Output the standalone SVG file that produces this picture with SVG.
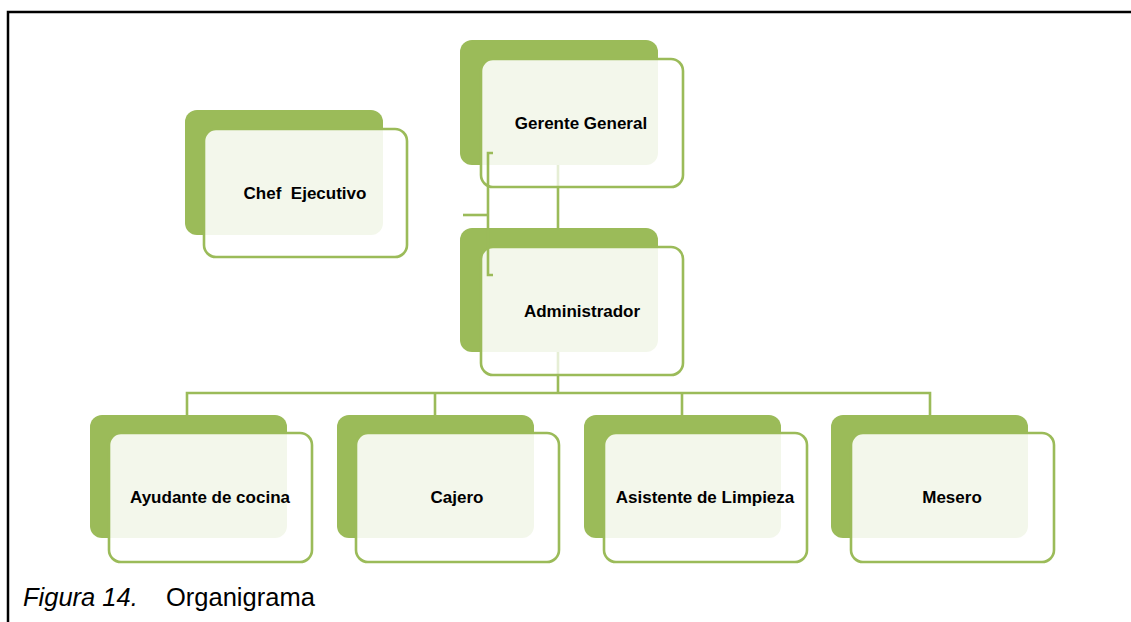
<svg xmlns="http://www.w3.org/2000/svg" width="1131" height="622" viewBox="0 0 1131 622">
<style>
.back{fill:#9bbb59;}
.front{fill:#ffffff;fill-opacity:0.88;stroke:#9bbb59;stroke-width:2.6;}
.lbl{font-family:"Liberation Sans",Arial,sans-serif;font-weight:bold;font-size:17px;fill:#000;text-anchor:middle;}
.con{fill:none;stroke:#9bbb59;stroke-width:2.6;}
.faint{fill:none;stroke:#9bbb59;stroke-width:2.6;opacity:0.25;}
.cap{font-family:"Liberation Sans",Arial,sans-serif;font-size:25.5px;fill:#000;}
</style>
<rect width="1131" height="622" fill="#ffffff"/>
<path d="M8,622 V12 H1131" fill="none" stroke="#000" stroke-width="2.5"/>

<g id="node-gerente">
<rect class="back" x="460" y="40" width="198" height="125" rx="12"/>
<rect class="front" x="481" y="59" width="202" height="128" rx="12"/>
<text class="lbl" x="581" y="129">Gerente General</text>
</g>
<g id="node-chef">
<rect class="back" x="185" y="110" width="198" height="125" rx="12"/>
<rect class="front" x="204" y="129" width="203" height="128" rx="12"/>
<text class="lbl" x="305" y="199" xml:space="preserve">Chef  Ejecutivo</text>
</g>
<g id="node-administrador">
<rect class="back" x="460" y="228" width="198" height="124" rx="12"/>
<rect class="front" x="481" y="247" width="202" height="128" rx="12"/>
<text class="lbl" x="582" y="317">Administrador</text>
</g>
<g id="node-ayudante">
<rect class="back" x="90" y="415" width="197" height="123" rx="12"/>
<rect class="front" x="109" y="433" width="203" height="129" rx="12"/>
<text class="lbl" x="210" y="503">Ayudante de cocina</text>
</g>
<g id="node-cajero">
<rect class="back" x="337" y="415" width="197" height="123" rx="12"/>
<rect class="front" x="356" y="433" width="203" height="129" rx="12"/>
<text class="lbl" x="457" y="503">Cajero</text>
</g>
<g id="node-asistente">
<rect class="back" x="584" y="415" width="197" height="123" rx="12"/>
<rect class="front" x="604" y="433" width="203" height="129" rx="12"/>
<text class="lbl" x="705" y="503">Asistente de Limpieza</text>
</g>
<g id="node-mesero">
<rect class="back" x="831" y="415" width="197" height="123" rx="12"/>
<rect class="front" x="851" y="433" width="203" height="129" rx="12"/>
<text class="lbl" x="952" y="503">Mesero</text>
</g>

<g id="connectors">
<path class="faint" d="M558,165 V187"/>
<path class="con" d="M558,187 V228"/>
<path class="con" d="M493,153 H488 V275 H493"/>
<path class="con" d="M463,215 H488"/>
<path class="faint" d="M558,352 V375"/>
<path class="con" d="M558,375 V393"/>
<path class="con" d="M187,415 V393 H930 V415"/>
<path class="con" d="M435,393 V415"/>
<path class="con" d="M682,393 V415"/>
</g>

<g id="caption">
<text class="cap" x="23" y="606" font-style="italic" font-size="27.5px">Figura 14.</text>
<text class="cap" x="166" y="606">Organigrama</text>
</g>
</svg>
